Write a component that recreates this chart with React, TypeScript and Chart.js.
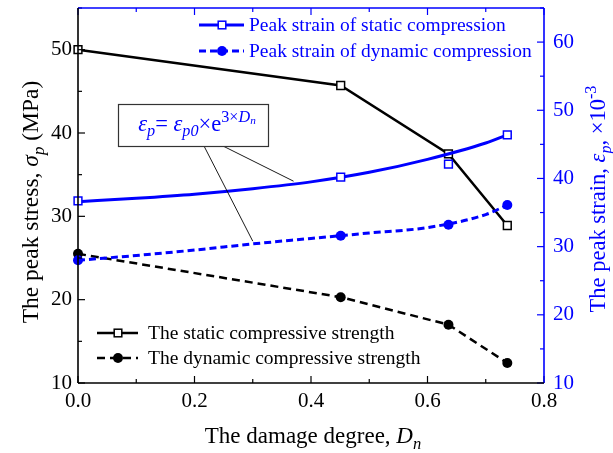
import React, { useEffect, useRef } from "react";
import { Chart, registerables } from "chart.js";

Chart.register(...registerables);

// ---------- data ----------
const damageDegree = [0, 0.451, 0.636, 0.737];
const staticStrength = [50.0, 45.7, 37.5, 28.9];
const dynamicStrength = [25.5, 20.3, 17.0, 12.4];
const staticStrain = [36.7, 40.2, 42.1, 46.4];
const dynamicStrain = [28.0, 31.6, 33.2, 36.1];

// fitted curves
const fitDamage = [0, 0.1, 0.2, 0.3, 0.4, 0.5, 0.6, 0.7, 0.737];
const staticStrainFit = [36.6, 37.1, 37.7, 38.5, 39.5, 40.9, 42.8, 45.2, 46.4];
const dynamicStrainFit = [28.0, 28.7, 29.5, 30.4, 31.2, 32.0, 32.8, 34.7, 36.1];

const xTicks = [0, 0.2, 0.4, 0.6, 0.8];
const stressTicks = [10, 20, 30, 40, 50];
const strainTicks = [10, 20, 30, 40, 50, 60];

const legendTop = ["Peak strain of static compression", "Peak strain of dynamic compression"];
const legendBottom = ["The static compressive strength", "The dynamic compressive strength"];

const FONT = '"Liberation Serif", "Times New Roman", serif';
const BLUE = "#0000ff";
const BLACK = "#000000";
const TICK_SIZE = 21;
const TITLE_SIZE = 23;
const LEGEND_SIZE = 19.5;

type Seg = { t: string; it?: boolean; s?: number; dy?: number };

function segFont(size: number, g: Seg) {
  const sz = size * (g.s ?? 1);
  return `${g.it ? "italic " : ""}${sz}px ${FONT}`;
}
function richWidth(ctx: CanvasRenderingContext2D, segs: Seg[], size: number) {
  let w = 0;
  for (const g of segs) {
    ctx.font = segFont(size, g);
    w += ctx.measureText(g.t).width;
  }
  return w;
}
function drawRich(
  ctx: CanvasRenderingContext2D,
  segs: Seg[],
  x: number,
  y: number,
  size: number,
  color: string,
  align: "left" | "center"
) {
  const w = richWidth(ctx, segs, size);
  let cx = align === "center" ? x - w / 2 : x;
  ctx.fillStyle = color;
  ctx.textAlign = "left";
  ctx.textBaseline = "alphabetic";
  for (const g of segs) {
    ctx.font = segFont(size, g);
    ctx.fillText(g.t, cx, y + (g.dy ?? 0) * size);
    cx += ctx.measureText(g.t).width;
  }
}

function line(ctx: CanvasRenderingContext2D, x1: number, y1: number, x2: number, y2: number) {
  ctx.beginPath();
  ctx.moveTo(x1, y1);
  ctx.lineTo(x2, y2);
  ctx.stroke();
}

function marker(ctx: CanvasRenderingContext2D, kind: "square" | "circle", x: number, y: number, color: string, r: number) {
  ctx.save();
  ctx.setLineDash([]);
  if (kind === "square") {
    ctx.fillStyle = "#ffffff";
    ctx.strokeStyle = color;
    ctx.lineWidth = 1.5;
    ctx.fillRect(x - r, y - r, 2 * r, 2 * r);
    ctx.strokeRect(x - r, y - r, 2 * r, 2 * r);
  } else {
    ctx.fillStyle = color;
    ctx.beginPath();
    ctx.arc(x, y, r, 0, Math.PI * 2);
    ctx.fill();
  }
  ctx.restore();
}

const decorPlugin = {
  id: "decor",
  afterDraw(chart: any) {
    const ctx: CanvasRenderingContext2D = chart.ctx;
    const { left: L, right: R, top: T, bottom: B } = chart.chartArea;
    const xs = chart.scales.x;
    const ys = chart.scales.y;
    const y1 = chart.scales.y1;
    ctx.save();
    ctx.setLineDash([]);

    // ---- ticks ----
    ctx.lineWidth = 1.2;
    for (let i = 0; i <= 8; i++) {
      const v = i / 10;
      const px = xs.getPixelForValue(v);
      const len = i % 2 === 0 ? 7 : 4;
      ctx.strokeStyle = BLACK;
      line(ctx, px, B, px, B - len);
      ctx.strokeStyle = BLUE;
      line(ctx, px, T, px, T + len);
    }
    for (let v = 10; v <= 55; v += 5) {
      const py = ys.getPixelForValue(v);
      const len = v % 10 === 0 ? 7 : 4;
      ctx.strokeStyle = BLACK;
      line(ctx, L, py, L + len, py);
    }
    for (let v = 10; v <= 65; v += 5) {
      const py = y1.getPixelForValue(v);
      const len = v % 10 === 0 ? 7 : 4;
      ctx.strokeStyle = BLUE;
      line(ctx, R, py, R - len, py);
    }

    // ---- frame ----
    ctx.lineWidth = 1.6;
    ctx.strokeStyle = BLUE;
    line(ctx, L, T, R, T);
    line(ctx, R, T, R, B);
    ctx.strokeStyle = BLACK;
    line(ctx, L, T, L, B);
    line(ctx, L, B, R, B);

    // ---- formula box with leader lines ----
    ctx.strokeStyle = BLACK;
    ctx.lineWidth = 0.9;
    line(ctx, 223, 146, xs.getPixelForValue(0.37), y1.getPixelForValue(39.6));
    line(ctx, 204, 146, xs.getPixelForValue(0.3), y1.getPixelForValue(30.8));
    ctx.fillStyle = "#ffffff";
    ctx.fillRect(118, 104, 150, 42);
    ctx.strokeStyle = "#333333";
    ctx.lineWidth = 1.2;
    ctx.strokeRect(118.5, 104.5, 150, 42);
    drawRich(
      ctx,
      [
        { t: "ε", it: true },
        { t: "p", it: true, s: 0.72, dy: 0.22 },
        { t: "= " },
        { t: "ε", it: true },
        { t: "p0", it: true, s: 0.72, dy: 0.22 },
        { t: "×e" },
        { t: "3×", s: 0.72, dy: -0.42 },
        { t: "D", it: true, s: 0.72, dy: -0.42 },
        { t: "n", it: true, s: 0.5, dy: -0.3 },
      ],
      197,
      131,
      22.5,
      BLUE,
      "center"
    );

    // ---- top legend (strain) ----
    ctx.lineWidth = 2.8;
    ctx.strokeStyle = BLUE;
    ctx.setLineDash([]);
    line(ctx, 199, 25, 244, 25);
    marker(ctx, "square", 222, 25, BLUE, 3.8);
    ctx.setLineDash([7, 4]);
    ctx.lineWidth = 2.8;
    ctx.strokeStyle = BLUE;
    line(ctx, 199, 51, 244, 51);
    ctx.setLineDash([]);
    marker(ctx, "circle", 222, 51, BLUE, 5);
    ctx.font = `${LEGEND_SIZE}px ${FONT}`;
    ctx.fillStyle = BLUE;
    ctx.textAlign = "left";
    ctx.textBaseline = "middle";
    ctx.fillText(legendTop[0], 249, 26);
    ctx.fillText(legendTop[1], 249, 52);

    // ---- bottom legend (stress) ----
    ctx.lineWidth = 2.5;
    ctx.strokeStyle = BLACK;
    line(ctx, 97, 333, 138, 333);
    marker(ctx, "square", 118, 333, BLACK, 3.8);
    ctx.setLineDash([8, 5]);
    ctx.lineWidth = 2.5;
    ctx.strokeStyle = BLACK;
    line(ctx, 97, 358, 138, 358);
    ctx.setLineDash([]);
    marker(ctx, "circle", 118, 358, BLACK, 5);
    ctx.font = `${LEGEND_SIZE}px ${FONT}`;
    ctx.fillStyle = BLACK;
    ctx.textBaseline = "middle";
    ctx.fillText(legendBottom[0], 148, 334);
    ctx.fillText(legendBottom[1], 148, 359);

    // ---- axis titles ----
    drawRich(
      ctx,
      [{ t: "The damage degree, " }, { t: "D", it: true }, { t: "n", it: true, s: 0.72, dy: 0.25 }],
      (L + R) / 2 + 2,
      443,
      TITLE_SIZE,
      BLACK,
      "center"
    );

    ctx.save();
    ctx.translate(38, 202);
    ctx.rotate(-Math.PI / 2);
    drawRich(
      ctx,
      [
        { t: "The peak stress, " },
        { t: "σ", it: true },
        { t: "p", it: true, s: 0.72, dy: 0.25 },
        { t: " (MPa)" },
      ],
      0,
      0,
      TITLE_SIZE + 0.5,
      BLACK,
      "center"
    );
    ctx.restore();

    ctx.save();
    ctx.translate(605, 199);
    ctx.rotate(-Math.PI / 2);
    drawRich(
      ctx,
      [
        { t: "The peak strain, " },
        { t: "ε", it: true },
        { t: "p", it: true, s: 0.72, dy: 0.25 },
        { t: ", ×10" },
        { t: "-3", s: 0.72, dy: -0.42 },
      ],
      0,
      0,
      TITLE_SIZE - 0.5,
      BLUE,
      "center"
    );
    ctx.restore();

    ctx.restore();
  },
};

function pts(xv: number[], yv: number[]) {
  return xv.map((x, i) => ({ x, y: yv[i] }));
}

export default function App() {
  const ref = useRef<HTMLCanvasElement | null>(null);

  useEffect(() => {
    if (!ref.current) return;
    const chart = new Chart(ref.current, {
      type: "line",
      data: {
        datasets: [
          {
            label: "static strength",
            data: pts(damageDegree, staticStrength),
            yAxisID: "y",
            borderColor: BLACK,
            borderWidth: 2.5,
            pointStyle: "rect",
            pointRadius: 5.5,
            pointBorderWidth: 1.5,
            pointBackgroundColor: "#ffffff",
            pointBorderColor: BLACK,
            tension: 0,
            clip: false,
            order: 3,
          } as any,
          {
            label: "dynamic strength",
            data: pts(damageDegree, dynamicStrength),
            yAxisID: "y",
            borderColor: BLACK,
            borderWidth: 2.5,
            borderDash: [8, 5],
            pointStyle: "circle",
            pointRadius: 5,
            pointBackgroundColor: BLACK,
            pointBorderColor: BLACK,
            pointBorderWidth: 0,
            tension: 0,
            clip: false,
            order: 4,
          } as any,
          {
            label: "static strain fit",
            data: pts(fitDamage, staticStrainFit),
            yAxisID: "y1",
            borderColor: BLUE,
            borderWidth: 3,
            pointRadius: 0,
            cubicInterpolationMode: "monotone",
            clip: false,
            order: 2,
          } as any,
          {
            label: "static strain",
            data: pts(damageDegree, staticStrain),
            yAxisID: "y1",
            showLine: false,
            pointStyle: "rect",
            pointRadius: 5.5,
            pointBorderWidth: 1.5,
            pointBackgroundColor: "#ffffff",
            pointBorderColor: BLUE,
            clip: false,
            order: 0,
          } as any,
          {
            label: "dynamic strain fit",
            data: pts(fitDamage, dynamicStrainFit),
            yAxisID: "y1",
            borderColor: BLUE,
            borderWidth: 3,
            borderDash: [7, 4],
            pointRadius: 0,
            cubicInterpolationMode: "monotone",
            clip: false,
            order: 2,
          } as any,
          {
            label: "dynamic strain",
            data: pts(damageDegree, dynamicStrain),
            yAxisID: "y1",
            showLine: false,
            pointStyle: "circle",
            pointRadius: 5,
            pointBorderWidth: 0,
            pointBackgroundColor: BLUE,
            pointBorderColor: BLUE,
            clip: false,
            order: 0,
          } as any,
        ],
      },
      options: {
        responsive: false,
        animation: false,
        devicePixelRatio: 1,
        layout: { padding: { top: 8, left: 0, right: 0, bottom: 0 } },
        plugins: { legend: { display: false }, tooltip: { enabled: false } },
        scales: {
          x: {
            type: "linear",
            position: "bottom",
            min: 0,
            max: 0.8,
            grid: { display: false, drawTicks: false },
            border: { display: false },
            ticks: {
              font: { family: FONT, size: TICK_SIZE },
              color: BLACK,
              padding: 6,
              maxRotation: 0,
              autoSkip: false,
              callback: (v: any) => Number(v).toFixed(1),
            },
            afterBuildTicks: (s: any) => {
              s.ticks = xTicks.map((v) => ({ value: v }));
            },
            afterFit: (s: any) => {
              s.height = 70;
              s.paddingLeft = 0;
              s.paddingRight = 0;
            },
          },
          y: {
            type: "linear",
            position: "left",
            min: 10,
            max: 55,
            grid: { display: false, drawTicks: false },
            border: { display: false },
            ticks: {
              font: { family: FONT, size: TICK_SIZE },
              color: BLACK,
              padding: 6,
              autoSkip: false,
            },
            afterBuildTicks: (s: any) => {
              s.ticks = stressTicks.map((v) => ({ value: v }));
            },
            afterFit: (s: any) => {
              s.width = 78;
              s.paddingTop = 0;
              s.paddingBottom = 0;
            },
          },
          y1: {
            type: "linear",
            position: "right",
            min: 10,
            max: 65,
            grid: { display: false, drawTicks: false },
            border: { display: false },
            ticks: {
              font: { family: FONT, size: TICK_SIZE },
              color: BLUE,
              padding: 9,
              autoSkip: false,
            },
            afterBuildTicks: (s: any) => {
              s.ticks = strainTicks.map((v) => ({ value: v }));
            },
            afterFit: (s: any) => {
              s.width = 69;
              s.paddingTop = 0;
              s.paddingBottom = 0;
            },
          },
        },
      } as any,
      plugins: [decorPlugin],
    });
    return () => chart.destroy();
  }, []);

  return (
    <div style={{ position: "absolute", left: 0, top: 0, width: 613, height: 453, background: "#ffffff" }}>
      <canvas ref={ref} width={613} height={453} style={{ display: "block" }} />
    </div>
  );
}
